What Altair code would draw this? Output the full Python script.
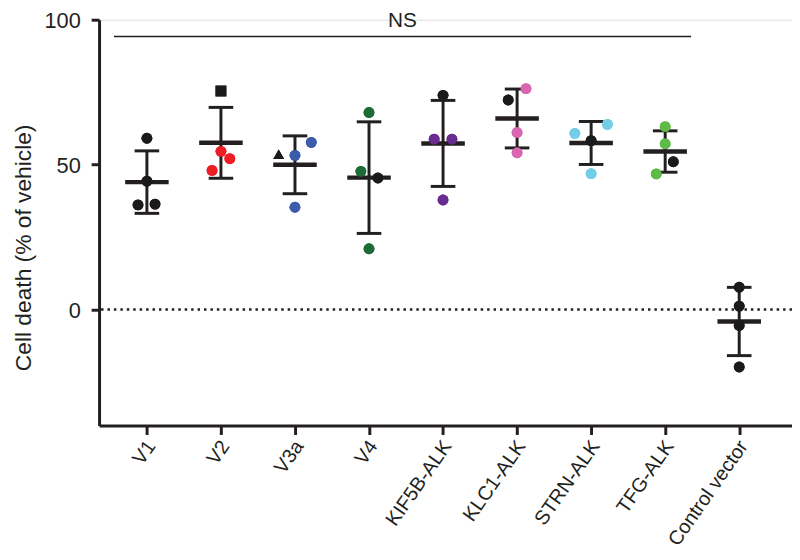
import json
import altair as alt
import pandas as pd

# ---------------- data ----------------
categories = ["V1", "V2", "V3a", "V4", "KIF5B-ALK", "KLC1-ALK",
              "STRN-ALK", "TFG-ALK", "Control vector"]

values = [
    [59.1, 44.3, 36.1, 36.4],
    [75.4, 54.6, 52.1, 48.0],
    [53.6, 57.7, 53.2, 35.3],
    [68.0, 47.7, 45.4, 21.0],
    [73.9, 58.8, 58.8, 37.8],
    [76.2, 72.3, 61.1, 54.1],
    [60.8, 63.9, 58.3, 46.9],
    [63.1, 57.2, 51.0, 46.8],
    [7.7, 1.2, -5.5, -19.8],
]

# horizontal scatter of the points, in category units
jitter = [
    [0, 0, -0.12, 0.11],
    [0, 0, 0.12, -0.12],
    [-0.22, 0.22, 0, 0],
    [0, -0.11, 0.12, 0],
    [0, -0.12, 0.12, 0],
    [0.12, -0.12, 0, 0],
    [-0.22, 0.22, 0, 0],
    [0, 0, 0.11, -0.12],
    [0, 0, 0, 0],
]

K = "#1a1a1a"
RED, BLUE, DGREEN = "#ee1c25", "#3b5bab", "#1d6b35"
PURPLE, PINK, CYAN, LGREEN = "#6b2c91", "#d966b0", "#74cde6", "#5dbb46"

point_colors = [
    [K, K, K, K],
    [K, RED, RED, RED],
    [K, BLUE, BLUE, BLUE],
    [DGREEN, DGREEN, K, DGREEN],
    [K, PURPLE, PURPLE, PURPLE],
    [PINK, K, PINK, PINK],
    [CYAN, CYAN, K, CYAN],
    [LGREEN, LGREEN, K, LGREEN],
    [K, K, K, K],
]

point_shapes = [
    ["circle"] * 4,
    ["square", "circle", "circle", "circle"],
    ["triangle-up", "circle", "circle", "circle"],
    ["circle"] * 4,
    ["circle"] * 4,
    ["circle"] * 4,
    ["circle"] * 4,
    ["circle"] * 4,
    ["circle"] * 4,
]

ns_label = "NS"
ns_span = [-0.445, 7.35]     # bracket extent in category units
ns_level = 94.2
ns_text_level = 97.6

y_ticks = [0, 50, 100]

# ---------------- build tables ----------------
rows = []
for i, cat in enumerate(categories):
    for v, j, c, s in zip(values[i], jitter[i], point_colors[i], point_shapes[i]):
        rows.append({"idx": i, "cat": cat, "value": v, "xpos": i + j,
                     "color": c, "shape": s})
df = pd.DataFrame(rows)

ns_df = pd.DataFrame({"x": [ns_span[0]], "x2": [ns_span[1]], "y": [ns_level],
                      "tx": [(ns_span[0] + ns_span[1]) / 2], "ty": [ns_text_level],
                      "label": [ns_label]})

XDOM = [-0.646, 8.713]
YDOM = [-40, 100]
xs = alt.Scale(domain=XDOM, nice=False, zero=False)
ys = alt.Scale(domain=YDOM, nice=False, zero=False)

INK = "#231f20"
label_expr = json.dumps(categories) + "[round(datum.value)]"

XAX = alt.Axis(values=list(range(len(categories))), labelExpr=label_expr,
               title=None, labelAngle=-55, labelAlign="right",
               labelBaseline="middle", labelFontSize=20, labelPadding=8,
               labelOffset=4,
               tickSize=9, tickWidth=3, domainWidth=3,
               tickColor=INK, domainColor=INK, labelColor=INK, grid=False,
               labelFlush=False, labelOverlap=False)
YAX = alt.Axis(values=y_ticks, title="Cell death (% of vehicle)",
               titleFontSize=23, titleFontWeight="normal",
               titleColor=INK, labelColor=INK,
               labelFontSize=22, labelPadding=11, tickSize=8, labelOffset=1,
               tickWidth=3, domainWidth=3, tickColor=INK,
               domainColor=INK, grid=False,
               titleAngle=-90, titleX=-87, titleY=230,
               titleAlign="center", titleBaseline="top")


def X(f):
    return alt.X(f, scale=xs, axis=XAX)


def Y(f):
    return alt.Y(f, scale=ys, axis=YAX)


base = alt.Chart(df)

points = base.mark_point(filled=True, size=120, opacity=1, strokeWidth=0).encode(
    x=X("xpos:Q"), y=Y("value:Q"),
    color=alt.Color("color:N", scale=None),
    shape=alt.Shape("shape:N", scale=None),
)

summary = base.transform_aggregate(
    mean="mean(value)", sd="stdev(value)", groupby=["idx"]
).transform_calculate(
    hi="datum.mean + datum.sd", lo="datum.mean - datum.sd",
    mL="datum.idx - 0.294", mR="datum.idx + 0.294",
    cL="datum.idx - 0.166", cR="datum.idx + 0.166",
)

mean_line = summary.mark_rule(strokeWidth=4.5, color=INK).encode(
    x=X("mL:Q"), x2="mR:Q", y=Y("mean:Q"))

vert = summary.mark_rule(strokeWidth=3, color=INK).encode(
    x=X("idx:Q"), y=Y("lo:Q"), y2="hi:Q")

caps = summary.transform_fold(["hi", "lo"], as_=["end", "yv"]).mark_rule(
    strokeWidth=3, color=INK).encode(
    x=X("cL:Q"), x2="cR:Q", y=Y("yv:Q"))

zero_line = alt.Chart(pd.DataFrame({"y": [0]})).mark_rule(
    strokeWidth=2.5, strokeDash=[2.5, 4], color=INK).encode(y=Y("y:Q"))

ns_line = alt.Chart(ns_df).mark_rule(strokeWidth=1.5, color=INK).encode(
    x=X("x:Q"), x2="x2:Q", y=Y("y:Q"))

ns_text = alt.Chart(ns_df).mark_text(fontSize=21, baseline="alphabetic",
                                     align="center", color=INK).encode(
    x=X("tx:Q"), y=Y("ty:Q"), text="label:N")

chart = alt.layer(
    points, zero_line, ns_line, ns_text, vert, caps, mean_line, points
).properties(
    width=700, height=410,
    autosize=alt.AutoSizeParams(type="none"),
    padding={"left": 92, "top": 9, "right": 0, "bottom": 133},
    background="white",
).configure_view(stroke=None).configure(
    font="Liberation Sans"
)

chart.save("out.html", embed_options={"renderer": "svg", "actions": False})
